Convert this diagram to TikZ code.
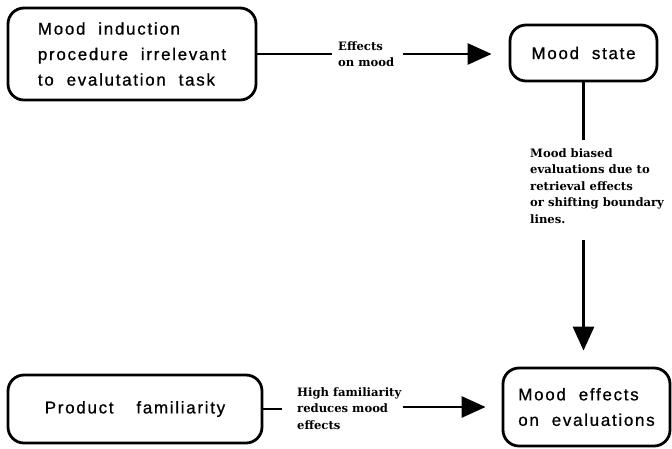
\documentclass[tikz,border=0pt]{standalone}
\usepackage{fontspec}
\setmainfont{DejaVu Serif}
\newfontfamily\boxfont[LetterSpace=10,WordSpace=2,FakeBold=0.8]{Liberation Sans}
\usetikzlibrary{arrows.meta}

\begin{document}
\begin{tikzpicture}[x=1pt,y=-1pt,
  box/.style={draw, line width=2.8pt, rounded corners=16pt, align=left,
    inner sep=0pt, font=\boxfont\fontsize{17}{25.5}\selectfont},
  note/.style={align=left, inner sep=0pt, anchor=north west,
    font=\bfseries\fontsize{11.6}{16.5}\selectfont},
  link/.style={line width=2.8pt},
  arrow/.style={link, -{Triangle[length=24pt,width=21pt]}}]
\useasboundingbox (0,0) rectangle (672,448);

% boxes
\node[box, minimum width=248pt, minimum height=92pt] (induce) at (132,54)
  {Mood induction\\procedure irrelevant\\to evalutation task};
\node[box, minimum width=147pt, minimum height=56pt] (state) at (583.5,53)
  {Mood state};
\node[box, minimum width=254pt, minimum height=68pt] (familiar) at (135,409)
  {Product\hspace{10pt} familiarity};
\node[box, minimum width=167pt, minimum height=78pt] (effects) at (586.5,407)
  {Mood effects\\on evaluations};

% connector labels
\node[note] (moodnote) at (338,41) {Effects\\on mood};
\node[note] (biasnote) at (530,148)
  {Mood biased\\evaluations due to\\retrieval effects\\or shifting boundary\\lines.};
\node[note] (famnote) at (297,387) {High familiarity\\reduces mood\\effects};

% induction -> mood state
\draw[link, shorten >=6pt] (induce.east) -- (induce.east -| moodnote.west);
\draw[arrow, shorten <=9pt, shorten >=17pt] (induce.east -| moodnote.east) -- (induce.east -| state.west);

% mood state -> mood effects
\draw[link, shorten >=8pt] (state.south) -- (state.south |- biasnote.north);
\draw[arrow, shorten <=17pt, shorten >=16pt] (state.south |- biasnote.south) -- (state.south |- effects.north);

% familiarity -> mood effects
\draw[link, shorten >=15pt] (familiar.east) -- (familiar.east -| famnote.west);
\draw[arrow, shorten <=2pt, shorten >=16pt] (famnote.east |- effects.west) -- (effects.west);
\end{tikzpicture}
\end{document}
